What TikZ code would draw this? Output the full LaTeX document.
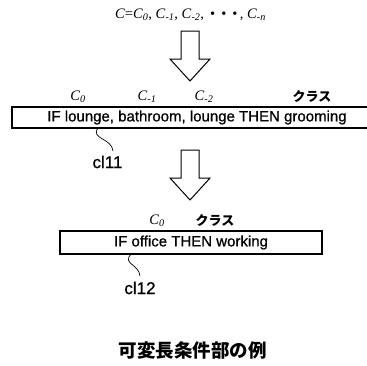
\documentclass[tikz,border=0pt]{standalone}
\usepackage{fontspec}
\setmainfont{Liberation Serif}
\newfontfamily\arialf[FakeBold=0.8]{Liberation Sans}
\newfontfamily\jpf{Noto Sans CJK JP}
\newcommand\Csub[1]{\textit{C}\textsubscript{\textit{#1}}}
\begin{document}
\begin{tikzpicture}[x=1pt,y=-1pt,
  rulebox/.style={draw, line width=1.3pt, font=\arialf\fontsize{15}{18}\selectfont, inner sep=0pt},
  clabel/.style={font=\fontsize{14.5}{16}\selectfont},
  jplabel/.style={font=\jpf\bfseries\fontsize{13}{15}\selectfont},
  reflabel/.style={font=\arialf\fontsize{17}{20}\selectfont},
  caption/.style={font=\jpf\bfseries\fontsize{18.5}{22}\selectfont},
  leader/.style={line width=0.7pt},
  downarrow/.pic={\draw[line width=1pt, line join=miter] (-9,0) -- (9,0) -- (9,28) -- (20,28) -- (0,50) -- (-20,28) -- (-9,28) -- cycle;}
]
\useasboundingbox (0,0) rectangle (367,365);
\fill[white] (0,0) rectangle (367,365);

% top formula
\node[clabel] (formula) at (190.5,15) {\textit{C}=\Csub{0}, \Csub{-1}, \Csub{-2}, \,•\, •\, •\,, \Csub{-n}};

% arrows
\pic at (190,31) {downarrow};
\pic at (190,150) {downarrow};

% first rule
\node[clabel] (a0) at (78,97) {\Csub{0}};
\node[clabel] (a1) at (147,97) {\Csub{-1}};
\node[clabel] (a2) at (204,97) {\Csub{-2}};
\node[jplabel] (ak) at (312,97) {クラス};
\node[rulebox, minimum width=370pt, minimum height=21pt] (r1) at (197,117.5) {IF lounge, bathroom, lounge THEN grooming};
\node[reflabel] (c11) at (107.5,162) {cl11};
\coordinate (l1s) at (98,128);
\coordinate (l1e) at (113,151);
\draw[leader] (l1s) .. controls (90,139) and (112,138) .. (l1e);

% second rule
\node[clabel] (b0) at (157,221) {\Csub{0}};
\node[jplabel] (bk) at (215,221) {クラス};
\node[rulebox, minimum width=262pt, minimum height=23pt] (r2) at (191,242.5) {IF office THEN working};
\node[reflabel] (c12) at (140,288) {cl12};
\coordinate (l2s) at (131,254);
\coordinate (l2e) at (140,276);
\draw[leader] (l2s) .. controls (122,264) and (139,264) .. (l2e);

% caption
\node[caption] (cap) at (192.5,350) {可変長条件部の例};
\end{tikzpicture}
\end{document}
